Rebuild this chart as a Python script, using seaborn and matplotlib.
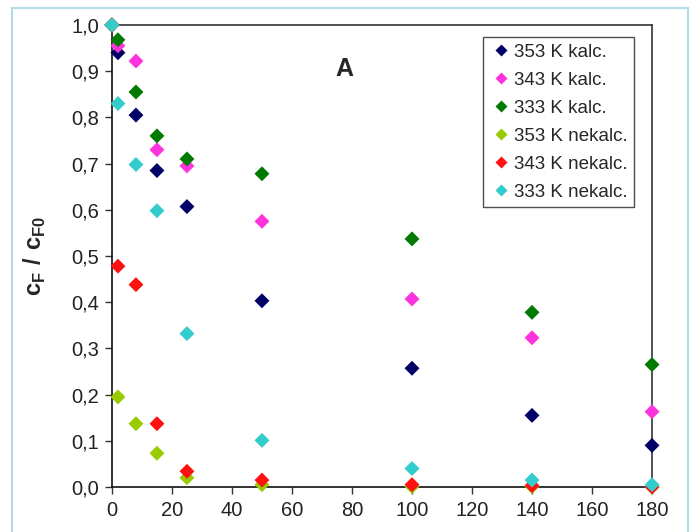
import numpy as np
import pandas as pd
import matplotlib
matplotlib.use("Agg")
import matplotlib.pyplot as plt
import seaborn as sns
from matplotlib.ticker import FuncFormatter, MultipleLocator
from matplotlib.patches import Rectangle

# time points
t = [0, 2, 8, 15, 25, 50, 100, 140, 180]

# c_F / c_F0 for each series
k353_kalc = [1.0, 0.940, 0.805, 0.685, 0.607, 0.403, 0.257, 0.155, 0.090]
k343_kalc = [1.0, 0.955, 0.922, 0.730, 0.695, 0.575, 0.407, 0.323, 0.163]
k333_kalc = [1.0, 0.968, 0.855, 0.760, 0.710, 0.678, 0.537, 0.378, 0.265]
k353_nekalc = [1.0, 0.195, 0.137, 0.073, 0.020, 0.005, 0.001, 0.001, 0.0]
k343_nekalc = [1.0, 0.478, 0.438, 0.137, 0.034, 0.015, 0.005, 0.003, 0.0]
k333_nekalc = [1.0, 0.830, 0.698, 0.598, 0.332, 0.101, 0.040, 0.015, 0.005]

labels = ["353 K kalc.", "343 K kalc.", "333 K kalc.",
          "353 K nekalc.", "343 K nekalc.", "333 K nekalc."]
series = [k353_kalc, k343_kalc, k333_kalc, k353_nekalc, k343_nekalc, k333_nekalc]
colors = ["#000066", "#ff33dd", "#007a00", "#99cc00", "#ff1111", "#33cccc"]

df = pd.concat(
    [pd.DataFrame({"t": t, "c": s, "serie": lab}) for lab, s in zip(labels, series)],
    ignore_index=True,
)

sns.set_style("white")
plt.rcParams["font.family"] = ["Liberation Sans", "DejaVu Sans"]
plt.rcParams["mathtext.fontset"] = "custom"
plt.rcParams["mathtext.bf"] = "Liberation Sans:bold"
plt.rcParams["mathtext.rm"] = "Liberation Sans"

fig = plt.figure(figsize=(6.91, 5.32), dpi=100)
ax = fig.add_axes([0.162, 0.0846, 0.7816, 0.8684])

sns.scatterplot(
    data=df, x="t", y="c", hue="serie", hue_order=labels,
    palette=colors, marker="D", s=58, edgecolor="none",
    clip_on=False, zorder=3, ax=ax,
)

ax.set_xlim(0, 180)
ax.set_ylim(0, 1.0)
ax.xaxis.set_major_locator(MultipleLocator(20))
ax.yaxis.set_major_locator(MultipleLocator(0.1))
ax.yaxis.set_major_formatter(FuncFormatter(lambda v, _: f"{v:.1f}".replace(".", ",")))
ax.tick_params(axis="both", direction="out", length=5, width=1, labelsize=14.5,
               colors="#333333", labelcolor="#222222", left=True, bottom=True, pad=4)
ax.tick_params(axis="x", pad=5)

for side in ["left", "bottom"]:
    ax.spines[side].set_color("#111111")
    ax.spines[side].set_linewidth(1.2)
for side in ["top", "right"]:
    ax.spines[side].set_color("#333333")
    ax.spines[side].set_linewidth(1.2)

ax.set_xlabel("")
ax.set_ylabel(r"$\mathbf{c}_{\mathbf{F}}\ \mathbf{/}\ \mathbf{c}_{\mathbf{F0}}$",
              fontsize=17, labelpad=17)

ax.text(0.43, 0.905, "A", transform=ax.transAxes, fontsize=18,
        fontweight="bold", ha="center", va="center")

leg = ax.legend(loc="upper right", bbox_to_anchor=(0.967, 0.974), frameon=True,
                fancybox=False, edgecolor="#222222", fontsize=13.5,
                handletextpad=0.1, borderpad=0.35, labelspacing=0.58,
                handlelength=1.2, borderaxespad=0, markerscale=0.85)
leg.get_frame().set_linewidth(1.0)

# light blue outer frame
fig.patches.append(Rectangle((12 / 691, -0.01), (688 - 12) / 691, 1 - 8 / 532 + 0.01,
                             transform=fig.transFigure, fill=False,
                             edgecolor="#b5dbe8", linewidth=1.5))

fig.savefig("out.png", dpi=100)
